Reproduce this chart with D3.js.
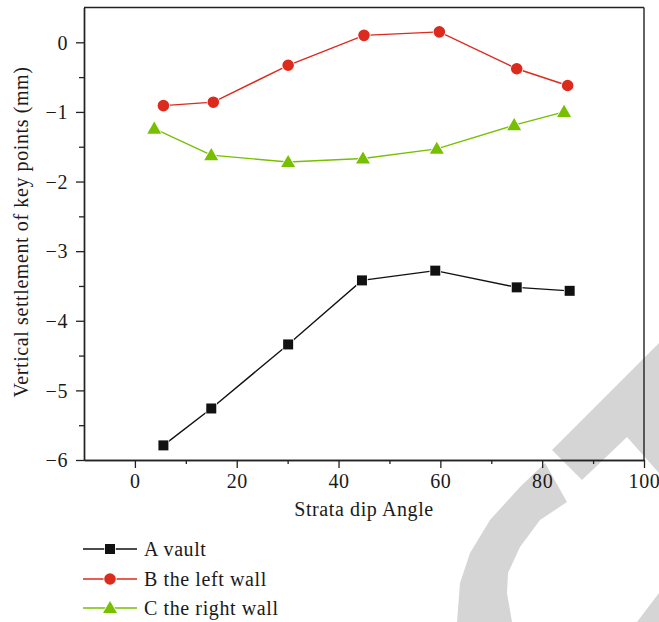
<!DOCTYPE html>
<html>
<head>
<meta charset="utf-8">
<script src="https://cdn.jsdelivr.net/npm/d3@7"></script>
<style>
  html, body { margin: 0; padding: 0; background: #fff; }
  svg { display: block; }
  text { font-family: "Liberation Serif", "DejaVu Serif", serif; fill: #1a1a1a; letter-spacing: 0.6px; }
</style>
</head>
<body>
<svg id="chart" width="659" height="622"></svg>
<script>
// ---- data ----
const seriesNames = ["A vault", "B the left wall", "C the right wall"];
const vaultX = [5.6, 15.0, 30.1, 44.6, 59.0, 75.0, 85.4];
const vaultY = [-5.79, -5.26, -4.34, -3.42, -3.28, -3.52, -3.57];
const leftX  = [5.6, 15.4, 30.1, 45.0, 59.8, 75.0, 85.0];
const leftY  = [-0.91, -0.86, -0.33, 0.10, 0.15, -0.38, -0.62];
const rightX = [3.8, 15.0, 30.1, 44.8, 59.3, 74.5, 84.3];
const rightY = [-1.24, -1.62, -1.72, -1.67, -1.53, -1.19, -1.00];
const xTicks = [0, 20, 40, 60, 80, 100];
const xMinorTicks = [10, 30, 50, 70, 90];
const yTicks = [-6, -5, -4, -3, -2, -1, 0];
const yMinorTicks = [-5.5, -4.5, -3.5, -2.5, -1.5, -0.5];
const xTitle = "Strata dip Angle";
const yTitle = "Vertical settlement of key points (mm)";

const colors = ["#111111", "#dc2a1d", "#76c000"];
const shapes = [d3.symbolSquare, d3.symbolCircle, d3.symbolTriangle];
const symSizes = [100, 105, 85];

const svg = d3.select("#chart");
const L = 84, R = 644, T = 7.5, B = 460;

// ---- watermark (decorative, behind) ----
const wm = svg.append("g").attr("fill", "#d5d5d5");
wm.append("path").attr("d",
  "M545,463 L520,487 L490,520 L470,553 L460,583 L457,622 L512,622 L507,593 L508,573 L520,547 L540,520 L567,502 Z");
wm.append("path").attr("d",
  "M582,480 L552,450 L659,343 L659,473 L627,437 Z");
wm.append("path").attr("d", "M659,593 L659,622 L637,622 Z");

const x = d3.scaleLinear().domain([-10, 100]).range([L, R]);
const y = d3.scaleLinear().domain([-6, 0.5]).range([B, T]);

// frame top and right
svg.append("line").attr("x1", L).attr("x2", R).attr("y1", T).attr("y2", T)
  .attr("stroke", "#222").attr("stroke-width", 1.4);
svg.append("line").attr("x1", R).attr("x2", R).attr("y1", T).attr("y2", B)
  .attr("stroke", "#222").attr("stroke-width", 1.4);

// axes
const fs = 20;
const fam = '"Liberation Serif", "DejaVu Serif", serif';
const xAxis = svg.append("g").attr("transform", `translate(0,${B})`)
  .call(d3.axisBottom(x).tickValues(xTicks).tickSize(8).tickPadding(5).tickSizeOuter(0));
const xMinor = svg.append("g").attr("transform", `translate(0,${B})`)
  .call(d3.axisBottom(x).tickValues(xMinorTicks).tickSize(4).tickFormat("").tickSizeOuter(0));
const yAxis = svg.append("g").attr("transform", `translate(${L},0)`)
  .call(d3.axisLeft(y).tickValues(yTicks).tickSize(8).tickPadding(8).tickSizeOuter(0)
    .tickFormat(d => d < 0 ? "\u2212" + Math.abs(d) : d));
const yMinor = svg.append("g").attr("transform", `translate(${L},0)`)
  .call(d3.axisLeft(y).tickValues(yMinorTicks).tickSize(5).tickFormat("").tickSizeOuter(0));

[xAxis, xMinor, yAxis, yMinor].forEach(g => {
  g.selectAll(".domain").attr("stroke", "#222").attr("stroke-width", 1.4);
  g.selectAll(".tick line").attr("stroke", "#222").attr("stroke-width", 1.3);
  g.selectAll("text").attr("font-size", fs)
    .attr("font-family", fam).attr("fill", "#1a1a1a");
});
yAxis.selectAll(".tick text").attr("dy", "0.34em");
xAxis.selectAll(".tick text").attr("dy", "0.76em");

// titles
svg.append("text").attr("x", 364).attr("y", 516)
  .attr("text-anchor", "middle").attr("font-size", fs).text(xTitle);
svg.append("text").attr("transform", "translate(28,232) rotate(-90)")
  .attr("text-anchor", "middle").attr("font-size", fs).text(yTitle);

// series
const series = [
  { xs: vaultX, ys: vaultY },
  { xs: leftX, ys: leftY },
  { xs: rightX, ys: rightY }
];
const line = d3.line().x(d => x(d[0])).y(d => y(d[1]));

series.forEach((s, i) => {
  const pts = s.xs.map((v, k) => [v, s.ys[k]]);
  const g = svg.append("g");
  g.append("path").datum(pts).attr("d", line).attr("fill", "none")
    .attr("stroke", colors[i]).attr("stroke-width", 1.4);
  g.selectAll("path.m").data(pts).enter().append("path").attr("class", "m")
    .attr("transform", d => `translate(${x(d[0])},${y(d[1]) + (i === 2 ? 1 : 0)})`)
    .attr("d", d3.symbol().type(shapes[i]).size(symSizes[i]))
    .attr("fill", colors[i]).attr("stroke", "#fff").attr("stroke-width", 1.5)
    .attr("paint-order", "stroke");
});

// legend
const legY = [549, 579, 608];
seriesNames.forEach((name, i) => {
  const g = svg.append("g");
  g.append("line").attr("x1", 83).attr("x2", 137).attr("y1", legY[i]).attr("y2", legY[i])
    .attr("stroke", colors[i]).attr("stroke-width", 1.4);
  g.append("path").attr("transform", `translate(110,${legY[i] + (i === 2 ? 1 : 0)})`)
    .attr("d", d3.symbol().type(shapes[i]).size(symSizes[i]))
    .attr("fill", colors[i]).attr("stroke", "#fff").attr("stroke-width", 1.5).attr("paint-order", "stroke");
  g.append("text").attr("x", 144).attr("y", legY[i]).attr("dy", "0.35em")
    .attr("font-size", fs).text(name);
});
</script>
</body>
</html>
